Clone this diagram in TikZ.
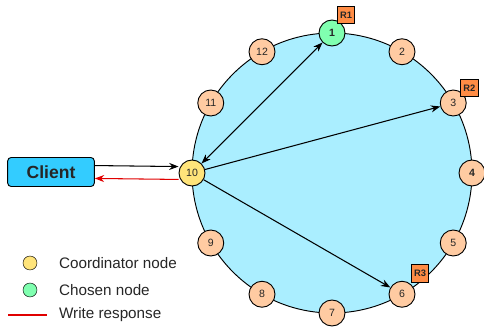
\documentclass[tikz,border=0pt]{standalone}
\usepackage{fontspec}
\setmainfont{Liberation Sans}
\usepackage{xcolor}
\usepackage{tikz}
\usetikzlibrary{positioning,arrows.meta,calc}
\definecolor{ringblue}{HTML}{AAEEFF}
\definecolor{peach}{HTML}{FFCBA2}
\definecolor{coordyellow}{HTML}{FFE47A}
\definecolor{chosengreen}{HTML}{80FFB0}
\definecolor{tagorange}{HTML}{FF8C45}
\definecolor{clientblue}{HTML}{33CCFF}
\definecolor{respred}{HTML}{E00000}
\tikzset{
  ringnode/.style = {shape=circle, draw, thick, fill=peach,
                     minimum size=0.78cm, inner sep=0pt, font=\small},
  coord/.style    = {ringnode, fill=coordyellow},
  chosen/.style   = {ringnode, fill=chosengreen, font=\small\bfseries},
  rtag/.style     = {shape=rectangle, draw, fill=tagorange, minimum size=0.52cm,
                     inner sep=0pt, font=\footnotesize\bfseries},
  client/.style   = {shape=rectangle, rounded corners=3pt, draw, thick,
                     fill=clientblue, minimum width=2.6cm, minimum height=0.87cm,
                     font=\fontsize{15}{18}\selectfont\bfseries},
  legdot/.style   = {shape=circle, draw, minimum size=0.42cm, inner sep=0pt},
  legtext/.style  = {anchor=west, font=\fontsize{13}{15}\selectfont}
}
\begin{document}
\begin{tikzpicture}
  [
    x = 0.03cm, y = 0.03cm,
    link/.style = {draw, line width=0.9pt, -{Stealth[length=8pt,width=6pt]}},
    every node/.style = {text=black!85}
  ]
  \useasboundingbox (0,0) rectangle (484,330);
  % the ring
  \coordinate (ctr) at (332,157);
  \draw [thick, fill=ringblue] (ctr) circle (140);
  \foreach \i in {2,3,5,6,7,8,9,11,12}
    \node [ringnode] (n\i) at ($(ctr)+({90-30*(\i-1)}:140)$) {\i};
  \node [chosen] (n1) at ($(ctr)+(90:140)$) {1};
  \node [ringnode, font=\small\bfseries] (n4) at ($(ctr)+(0:140)$) {4};
  \node [coord] (n10) at ($(ctr)+(180:140)$) {10};
  % replica tags
  \node [rtag, shift={(14,18)}] (r1) at (n1) {R1};
  \node [rtag, shift={(16,15)}] (r2) at (n3) {R2};
  \node [rtag, shift={(18,21)}] (r3) at (n6) {R3};
  % client
  \node [client] (cl) at (51,158) {Client};
  \draw [link] ([yshift=5.5]cl.east) -- ([yshift=5.5]n10.west);
  \draw [link, color=respred] ([yshift=-5.5]n10.west) -- ([yshift=-5.5]cl.east);
  % writes to replicas
  \draw [link, {Stealth[length=8pt,width=6pt]}-{Stealth[length=8pt,width=6pt]}] (n10) -- (n1);
  \draw [link] (n10) -- (n3);
  \draw [link] (n10) -- (n6);
  % legend
  \node [legdot, fill=coordyellow] (lg1) at (30,67) {};
  \node [legdot, fill=chosengreen] (lg2) at (30,40) {};
  \coordinate (lg3a) at (8,15);
  \coordinate (lg3b) at (47,15);
  \draw [color=respred, line width=0.9pt] (lg3a) -- (lg3b);
  \node [legtext] (t1) at (55,67) {Coordinator node};
  \node [legtext] (t2) at (55,40) {Chosen node};
  \node [legtext] (t3) at (55,15) {Write response};
\end{tikzpicture}
\end{document}
